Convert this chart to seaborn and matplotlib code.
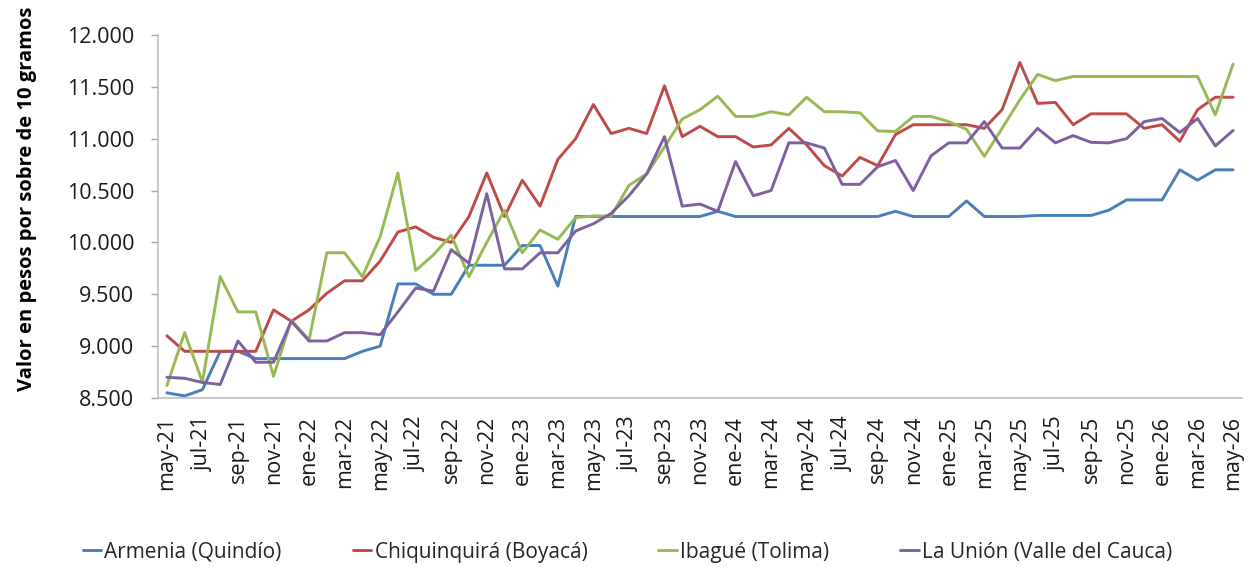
import matplotlib
matplotlib.use("Agg")
import matplotlib.pyplot as plt
import seaborn as sns
import pandas as pd
import numpy as np

# ---------------- data ----------------
meses = ["ene", "feb", "mar", "abr", "may", "jun", "jul", "ago", "sep", "oct", "nov", "dic"]
# monthly periods may-21 .. may-26
periodos = [f"{meses[(4 + k) % 12]}-{21 + (4 + k) // 12}" for k in range(61)]

armenia = [8550, 8520, 8580, 8950, 8950, 8880, 8880, 8880, 8880, 8880,
           8880, 8950, 9000, 9600, 9600, 9500, 9500, 9780, 9780, 9780,
           9970, 9970, 9580, 10250, 10250, 10250, 10250, 10250, 10250, 10250,
           10250, 10300, 10250, 10250, 10250, 10250, 10250, 10250, 10250, 10250,
           10250, 10300, 10250, 10250, 10250, 10400, 10250, 10250, 10250, 10260,
           10260, 10260, 10260, 10310, 10410, 10410, 10410, 10700, 10600, 10700,
           10700]

chiquinquira = [9100, 8950, 8950, 8950, 8950, 8950, 9350, 9240, 9350, 9510,
                9630, 9630, 9820, 10100, 10150, 10050, 10000, 10250, 10670, 10250,
                10600, 10350, 10800, 11000, 11330, 11050, 11100, 11050, 11510, 11020,
                11120, 11020, 11020, 10920, 10940, 11100, 10940, 10740, 10640, 10820,
                10740, 11040, 11135, 11135, 11135, 11135, 11100, 11280, 11735, 11340,
                11350, 11135, 11240, 11240, 11240, 11100, 11135, 10975, 11280, 11400,
                11400]

ibague = [8620, 9130, 8655, 9670, 9330, 9330, 8710, 9250, 9060, 9900,
          9900, 9670, 10055, 10670, 9730, 9880, 10070, 9670, 10000, 10310,
          9900, 10120, 10030, 10240, 10255, 10255, 10550, 10660, 10920, 11190,
          11280, 11410, 11215, 11215, 11260, 11230, 11400, 11260, 11260, 11250,
          11075, 11070, 11215, 11215, 11165, 11090, 10830, 11100, 11375, 11620,
          11560, 11600, 11600, 11600, 11600, 11600, 11600, 11600, 11600, 11230,
          11720]

la_union = [8700, 8690, 8650, 8630, 9050, 8845, 8845, 9240, 9050, 9050,
            9130, 9130, 9110, 9330, 9560, 9530, 9930, 9800, 10470, 9745,
            9745, 9900, 9900, 10110, 10180, 10280, 10450, 10660, 11020, 10350,
            10370, 10300, 10780, 10450, 10500, 10960, 10960, 10910, 10560, 10560,
            10730, 10790, 10500, 10835, 10960, 10960, 11165, 10910, 10910, 11100,
            10960, 11030, 10965, 10960, 11000, 11165, 11195, 11060, 11195, 10930,
            11080]

series_names = ["Armenia (Quindío)", "Chiquinquirá (Boyacá)", "Ibagué (Tolima)",
                "La Unión (Valle del Cauca)"]
colores = ["#4A7EBB", "#BE4B48", "#98B954", "#7D60A0"]
yticks = [8500, 9000, 9500, 10000, 10500, 11000, 11500, 12000]
ylabel = "Valor en pesos por sobre de 10 gramos"

# ---------------- dataframe ----------------
frames = []
for name, vals in zip(series_names, [armenia, chiquinquira, ibague, la_union]):
    frames.append(pd.DataFrame({"idx": np.arange(len(periodos)), "periodo": periodos,
                                "valor": vals, "serie": name}))
df = pd.concat(frames, ignore_index=True)

# ---------------- style ----------------
sns.set_theme(style="white")
plt.rcParams["font.family"] = ["Open Sans", "DejaVu Sans"]

fig = plt.figure(figsize=(12.56, 5.67), dpi=100)
ax = fig.add_axes([158 / 1256, 1 - 398 / 567, (1242 - 158) / 1256, (398 - 35) / 567])

sns.lineplot(data=df, x="idx", y="valor", hue="serie", hue_order=series_names,
             palette=colores, linewidth=2.1, ax=ax, legend=True)

ax.set_xlim(-0.5, len(periodos) - 0.5)
ax.set_ylim(8500, 12000)
ax.set_yticks(yticks)
ax.set_yticklabels([f"{v:,.0f}".replace(",", ".") for v in yticks], fontsize=15.5, color="#1a1a1a")
xt = list(range(0, len(periodos), 2))
ax.set_xticks(xt)
ax.set_xticklabels([periodos[i] for i in xt], rotation=90, fontsize=15.5, color="#1a1a1a")
ax.tick_params(axis="x", length=0, pad=13)
ax.tick_params(axis="y", length=5, width=1, color="#A6A6A6", pad=12, direction="out", left=True)

ax.set_xlabel("")
ax.set_ylabel(ylabel, fontsize=14.5, fontweight="bold", color="#000000")
ax.yaxis.set_label_coords(-0.112, 0.548)

for s in ["top", "right"]:
    ax.spines[s].set_visible(False)
for s in ["left", "bottom"]:
    ax.spines[s].set_color("#BFBFBF")
    ax.spines[s].set_linewidth(1.2)

handles, labels = ax.get_legend_handles_labels()
ax.get_legend().remove()
fig.legend(handles, labels, loc="center", bbox_to_anchor=(0.4995, 0.026), ncol=4,
           frameon=False, fontsize=15, handlelength=0.9, handletextpad=0.15,
           columnspacing=3.4, borderaxespad=0)

fig.savefig("out.png", dpi=100)
